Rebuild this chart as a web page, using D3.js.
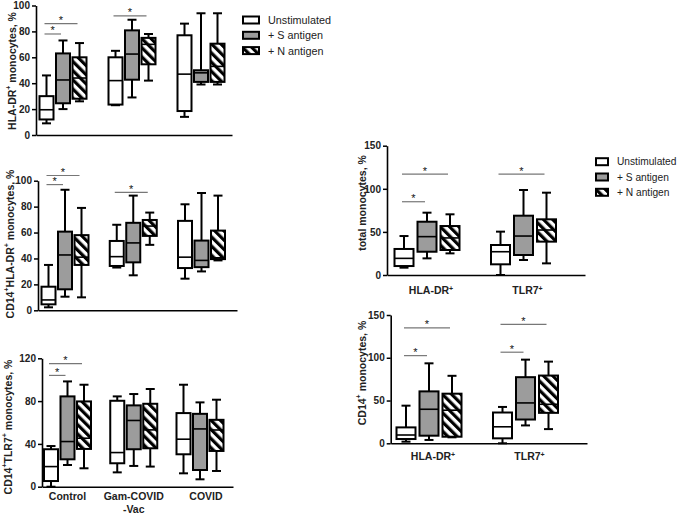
<!DOCTYPE html>
<html><head><meta charset="utf-8">
<script src="https://cdn.jsdelivr.net/npm/d3@7"></script>
<style>body{margin:0;background:#fff}svg{display:block;font-family:"Liberation Sans",Arial,sans-serif}</style>
</head><body><svg id="c" width="680" height="516"></svg>
<script>
// ---------- DATA ----------
const groupsLeft = ["Control", "Gam-COVID-Vac", "COVID"];
const groupsRight = ["HLA-DR", "TLR7"];
const seriesNames = ["Unstimulated", "+ S antigen", "+ N antigen"];
// each box: [min, q1, median, q3, max]
const hlaDrUnstim = [[9, 12, 19.5, 30, 46], [23, 23.5, 42, 60, 65], [14, 18.5, 47, 77, 86]];
const hlaDrS      = [[20, 24.5, 42.5, 63, 73], [29, 42.7, 62.5, 80.8, 89], [39, 41, 48, 50, 94]];
const hlaDrN      = [[26, 28, 44, 60, 71], [42, 54.6, 70, 75, 78], [39, 41, 53, 70.5, 94]];

const cd14HlaUnstim = [[2.3, 4.6, 8, 18.2, 35], [33, 34.2, 41.4, 53.5, 66], [24.4, 32.6, 41, 69, 81.8]];
const cd14HlaS      = [[10.5, 16.2, 42.7, 60.7, 93], [27, 37, 52, 67.5, 88.5], [30, 33.3, 38.5, 53.8, 90.5]];
const cd14HlaN      = [[10, 35, 41, 58, 79], [50.5, 57.4, 65, 69.7, 75.4], [38.5, 39.5, 40.5, 61.5, 88.5]];

const cd14TlrUnstim = [[0, 5.3, 18.8, 35, 38], [13.4, 21.9, 31.9, 80.3, 84.4], [12.5, 30.3, 44.4, 68.8, 95.3]];
const cd14TlrS      = [[20.3, 25.6, 42.2, 84.4, 98.4], [19.4, 35, 61.9, 76, 86.6], [6.9, 15.6, 54, 68.1, 78.8]];
const cd14TlrN      = [[17.2, 35.3, 45.3, 79.7, 95.3], [18.8, 35.9, 53.1, 77.5, 91.3], [14.7, 33.4, 53, 62.5, 81.3]];

const totalUnstim = [[8.5, 10.4, 19.3, 30.2, 45.2], [0, 12.4, 27, 34.8, 50.3]];
const totalS      = [[19.3, 27, 44.5, 61.8, 72.3], [17.4, 23.2, 45.2, 68.8, 98.6]];
const totalN      = [[25.1, 29, 43, 56.8, 70.4], [13.5, 38.7, 52.2, 64.6, 95.5]];

const cd14Unstim = [[1.9, 5, 9.7, 18.6, 44], [0, 5.8, 19.3, 36, 42.5]];
const cd14S      = [[3.9, 8.9, 39.8, 60.7, 93.5], [20.9, 27.8, 47.2, 77.3, 97.8]];
const cd14N      = [[7, 7.7, 38.7, 58, 78.9], [16.6, 35.6, 45.6, 79.2, 95.5]];

const ticks100 = [0, 20, 40, 60, 80, 100];
const ticks120 = [0, 40, 80, 120];
const ticks150 = [0, 50, 100, 150];

// significance bars: [group index, from series, to series, y value]
const sigA = [[0, 0, 2, 86], [0, 0, 1, 78], [1, 0, 2, 92]];
const sigB = [[0, 0, 2, 104], [0, 0, 1, 97], [1, 0, 2, 91]];
const sigC = [[0, 0, 2, 115], [0, 0, 1, 104]];
const sigD = [[0, 0, 2, 117], [0, 0, 1, 85], [1, 0, 2, 117]];
const sigE = [[0, 0, 2, 135], [0, 0, 1, 102.5], [1, 0, 2, 139], [1, 0, 1, 106.5]];

// ---------- DRAW ----------
const svg = d3.select("#c");
const defs = svg.append("defs");
const pat = defs.append("pattern").attr("id", "hatch").attr("patternUnits", "userSpaceOnUse")
  .attr("width", 6.5).attr("height", 6.5).attr("patternTransform", "rotate(-45)");
pat.append("rect").attr("width", 6.5).attr("height", 6.5).attr("fill", "#fff");
pat.append("rect").attr("width", 3.2).attr("height", 6.5).attr("fill", "#000");

const fills = ["#ffffff", "#9c9c9c", "url(#hatch)"];
const FONT = '"Liberation Sans", Arial, sans-serif';

function addRich(sel, parts, supSize) {
  parts.forEach(p => {
    const t = sel.append("tspan").text(p.t);
    if (p.sup) t.attr("baseline-shift", "super").attr("font-size", supSize);
  });
}

function panel(cfg) {
  const g = svg.append("g");
  const y = d3.scaleLinear().domain(cfg.domain).range([cfg.y0, cfg.y1]);
  const gx = d3.scalePoint().domain(cfg.groups).range(cfg.centers);
  const sx = d3.scalePoint().domain(seriesNames).range([-cfg.off, cfg.off]);
  const cx = (gi, si) => gx(cfg.groups[gi]) + sx(seriesNames[si]);

  // y axis
  const ax = g.append("g").attr("transform", `translate(${cfg.xL},0)`)
    .call(d3.axisLeft(y).tickValues(cfg.ticks).tickSize(4).tickPadding(2).tickSizeOuter(0));
  ax.select(".domain").attr("stroke", "#000").attr("stroke-width", 1.6);
  ax.selectAll(".tick line").attr("stroke", "#000").attr("stroke-width", 1.5);
  ax.selectAll(".tick text").attr("font-family", FONT).attr("font-weight", "bold")
    .attr("font-size", 10).attr("fill", "#222");
  // x axis line
  const xa = d3.scaleLinear().domain([0, 1]).range([cfg.xL, cfg.xR]);
  g.append("g").attr("transform", `translate(0,${cfg.y0})`)
    .call(d3.axisBottom(xa).tickValues([]).tickSizeOuter(0))
    .select(".domain").attr("stroke", "#000").attr("stroke-width", 1.6);

  // boxes
  cfg.boxes.forEach((ser, si) => {
    ser.forEach((b, gi) => {
      const c = cx(gi, si), w = cfg.bw, cap = cfg.cap;
      const [mn, q1, md, q3, mx] = b;
      const bg = g.append("g").attr("stroke", "#000").attr("stroke-width", 2);
      bg.append("line").attr("x1", c).attr("x2", c).attr("y1", y(mx)).attr("y2", y(q3));
      bg.append("line").attr("x1", c).attr("x2", c).attr("y1", y(q1)).attr("y2", y(mn));
      bg.append("line").attr("x1", c - cap / 2).attr("x2", c + cap / 2).attr("y1", y(mx)).attr("y2", y(mx));
      bg.append("line").attr("x1", c - cap / 2).attr("x2", c + cap / 2).attr("y1", y(mn)).attr("y2", y(mn));
      bg.append("rect").attr("x", c - w / 2).attr("width", w).attr("y", y(q3))
        .attr("height", Math.max(y(q1) - y(q3), 1)).attr("fill", fills[si]);
      bg.append("line").attr("x1", c - w / 2).attr("x2", c + w / 2).attr("y1", y(md)).attr("y2", y(md))
        .attr("stroke-width", 1.6);
    });
  });

  // significance
  cfg.sig.forEach(([gi, a, b, v]) => {
    const x1 = cx(gi, a) - 2, x2 = cx(gi, b) - 2, yy = y(v);
    g.append("line").attr("x1", x1).attr("x2", x2).attr("y1", yy).attr("y2", yy)
      .attr("stroke", "#777").attr("stroke-width", 1.2);
    g.append("text").attr("x", (x1 + x2) / 2).attr("y", yy + 0.5).attr("text-anchor", "middle")
      .attr("font-family", FONT).attr("font-size", 11).attr("fill", "#111").text("*");
  });

  // y title
  const t = g.append("text").attr("transform", `translate(${cfg.tx},${cfg.ty}) rotate(-90)`)
    .attr("text-anchor", "middle").attr("dominant-baseline", "central")
    .attr("font-family", FONT).attr("font-weight", "bold").attr("font-size", 10.5).attr("fill", "#222");
  addRich(t, cfg.title, 7);

  return {g, gx};
}

function legend(x, y0, bw, fs) {
  const lg = svg.append("g");
  seriesNames.forEach((s, i) => {
    const yy = y0 + i * 15.3;
    lg.append("rect").attr("x", x).attr("y", yy - 3.5).attr("width", bw).attr("height", 7)
      .attr("fill", fills[i]).attr("stroke", "#000").attr("stroke-width", 2);
    lg.append("text").attr("x", x + bw + 9).attr("y", yy).attr("dominant-baseline", "central")
      .attr("font-family", FONT).attr("font-size", fs).attr("fill", "#222").text(s);
  });
}

// Panel A
panel({boxes: [hlaDrUnstim, hlaDrS, hlaDrN], groups: groupsLeft, domain: [0, 100], ticks: ticks100,
  y0: 135, y1: 5.5, xL: 36, xR: 232, centers: [63, 201], off: 16.5, bw: 14, cap: 9, sig: sigA,
  tx: 12, ty: 71, title: [{t: "HLA-DR"}, {t: "+", sup: true}, {t: " monocytes, %"}]});
legend(243, 20, 16, 10.8);

// Panel B
panel({boxes: [cd14HlaUnstim, cd14HlaS, cd14HlaN], groups: groupsLeft, domain: [0, 100], ticks: ticks100,
  y0: 310.3, y1: 180.7, xL: 38, xR: 237, centers: [65, 201.5], off: 16.5, bw: 14, cap: 9, sig: sigB,
  tx: 10, ty: 244, title: [{t: "CD14"}, {t: "+", sup: true}, {t: "HLA-DR"}, {t: "+", sup: true}, {t: " monocytes, %"}]});

// Panel C
const pc = panel({boxes: [cd14TlrUnstim, cd14TlrS, cd14TlrN], groups: groupsLeft, domain: [0, 120], ticks: ticks120,
  y0: 486.7, y1: 358.3, xL: 42, xR: 233, centers: [67.5, 200], off: 16.5, bw: 14, cap: 9, sig: sigC,
  tx: 8, ty: 427, title: [{t: "CD14"}, {t: "+", sup: true}, {t: "TLR7"}, {t: "+", sup: true}, {t: " monocytes, %"}]});
const catLines = {"Control": ["Control"], "Gam-COVID-Vac": ["Gam-COVID", "-Vac"], "COVID": ["COVID"]};
groupsLeft.forEach(gname => {
  catLines[gname].forEach((ln, i) => {
    pc.g.append("text").attr("x", pc.gx(gname) + (gname === "COVID" ? 6 : 0)).attr("y", 500 + i * 13)
      .attr("text-anchor", "middle").attr("font-family", FONT).attr("font-weight", "bold")
      .attr("font-size", 10.5).attr("fill", "#222").text(ln);
  });
});

// Panel D
const pd = panel({boxes: [totalUnstim, totalS, totalN], groups: groupsRight, domain: [0, 150], ticks: ticks150,
  y0: 275, y1: 145.7, xL: 387, xR: 585, centers: [427, 523.5], off: 23, bw: 19, cap: 9, sig: sigD,
  tx: 362, ty: 203, title: [{t: "total monocytes, %"}]});
legend(596, 161.7, 12, 10.2);

// Panel E
const pe = panel({boxes: [cd14Unstim, cd14S, cd14N], groups: groupsRight, domain: [0, 150], ticks: ticks150,
  y0: 443.3, y1: 315, xL: 390.7, xR: 587, centers: [429, 525.5], off: 23, bw: 19, cap: 9, sig: sigE,
  tx: 362, ty: 373, title: [{t: "CD14"}, {t: "+", sup: true}, {t: " monocytes, %"}]});

[[pd, 294], [pe, 460]].forEach(([p, yy]) => {
  groupsRight.forEach(gname => {
    const t = p.g.append("text").attr("x", p.gx(gname) + 4).attr("y", yy).attr("text-anchor", "middle")
      .attr("font-family", FONT).attr("font-weight", "bold").attr("font-size", 10.5).attr("fill", "#222");
    addRich(t, [{t: gname}, {t: "+", sup: true}], 7);
  });
});
</script></body></html>
